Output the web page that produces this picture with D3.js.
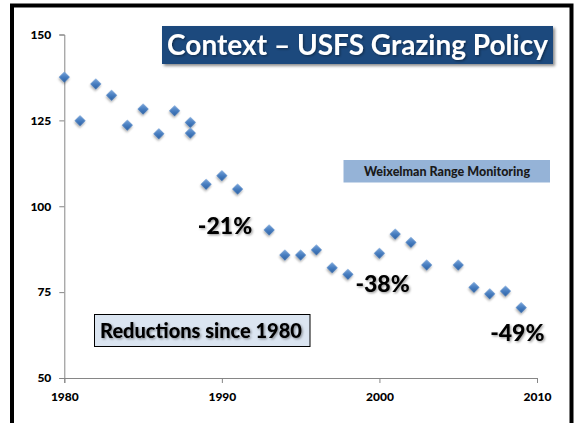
<!DOCTYPE html>
<html>
<head>
<meta charset="utf-8">
<script src="https://cdn.jsdelivr.net/npm/d3@7"></script>
<style>
  html, body { margin: 0; padding: 0; background: #fff; }
  svg { display: block; font-family: Lato, "Open Sans", sans-serif; }
</style>
</head>
<body>
<div id="chart"></div>
<script>
const years = [1980, 1981, 1982, 1983, 1984, 1985, 1986, 1987, 1988, 1988,
  1989, 1990, 1991, 1993, 1994, 1995, 1996, 1997, 1998,
  2000, 2001, 2002, 2003, 2005, 2006, 2007, 2008, 2009]
const values = [137.6, 124.9, 135.6, 132.3, 123.6, 128.3, 121.1, 127.8, 124.4, 121.3,
  106.4, 108.9, 105.0, 93.1, 85.8, 85.8, 87.3, 82.1, 80.2,
  86.3, 91.9, 89.5, 82.9, 82.9, 76.4, 74.5, 75.3, 70.5]
const xTicks = [1980, 1990, 2000, 2010]
const yTicks = [50, 75, 100, 125, 150]
const notes = ["-21%", "-38%", "-49%"]
const noteYears = [1990.2, 2000.2, 2008.75]
const noteValues = [91.8, 75.0, 60.7]

drawChart("#chart")

function drawChart(id){
  const canvas = {width: 578, height: 423}
  const svg = d3.select(id).append("svg")
    .attr("width", canvas.width).attr("height", canvas.height)

  addDefs(svg)

  // frame
  svg.append("path")
    .attr("d", "M12,430 L12,5.5 L571.5,5.5 L571.5,430")
    .attr("fill", "none").attr("stroke", "#000").attr("stroke-width", 4)

  const x = d3.scaleLinear().domain([1980, 2010]).range([64.3, 537])
  const y = d3.scaleLinear().domain([50, 150]).range([378, 34.5])

  const xAxis = svg.append("g").attr("transform", "translate(0,378)")
    .call(d3.axisBottom(x).tickValues(xTicks).tickFormat(d3.format("d")).tickSize(5).tickPadding(9))
  const yAxis = svg.append("g").attr("transform", "translate(64.3,0)")
    .call(d3.axisLeft(y).tickValues(yTicks).tickSize(5).tickPadding(8))
  for (const g of [xAxis, yAxis]) {
    g.select(".domain").attr("stroke", "#868686")
    g.selectAll(".tick line").attr("stroke", "#868686")
    g.selectAll(".tick text").attr("fill", "#000").attr("font-size", "12px")
      .attr("font-weight", "900").attr("font-family", "Lato, sans-serif")
  }

  // boxes
  svg.append("rect").attr("x", 162).attr("y", 26).attr("width", 391).attr("height", 38)
    .attr("fill", "#1f497d").attr("filter", "url(#boxshadow)")
  svg.append("text").attr("x", 357.5).attr("y", 55).attr("text-anchor", "middle")
    .attr("fill", "#fff").attr("font-size", "28px").attr("font-weight", "bold")
    .attr("filter", "url(#txtshadow)")
    .text("Context – USFS Grazing Policy")

  svg.append("rect").attr("x", 343.5).attr("y", 160).attr("width", 206.5).attr("height", 22.5)
    .attr("fill", "#95b3d7")
  svg.append("text").attr("x", 447).attr("y", 175.5).attr("text-anchor", "middle")
    .attr("fill", "#1a1a1a").attr("font-size", "12.5px").attr("font-weight", "900")
    .text("Weixelman Range Monitoring")

  svg.append("rect").attr("x", 94.5).attr("y", 314.5).attr("width", 215.5).attr("height", 32)
    .attr("fill", "#dbe5f1").attr("stroke", "#000").attr("stroke-width", 1)
  svg.append("text").attr("x", 201).attr("y", 338).attr("text-anchor", "middle")
    .attr("fill", "#000").attr("font-size", "20px").attr("font-weight", "900")
    .attr("filter", "url(#txtshadow)")
    .text("Reductions since 1980")

  // points
  const pts = years.map((yr, i) => ({yr: yr, v: values[i]}))
  svg.selectAll(".pt").data(pts).enter().append("path").attr("class", "pt")
    .attr("d", d3.symbol(d3.symbolSquare, 60)())
    .attr("transform", d => `translate(${x(d.yr)},${y(d.v)}) rotate(45)`)
    .attr("fill", "url(#dia)").attr("filter", "url(#ptshadow)")

  // reduction labels
  const lab = notes.map((t, i) => ({t: t, yr: noteYears[i], v: noteValues[i]}))
  svg.selectAll(".note").data(lab).enter().append("text").attr("class", "note")
    .attr("x", d => x(d.yr)).attr("y", d => y(d.v)).attr("text-anchor", "middle")
    .attr("font-size", "23px").attr("font-weight", "900").attr("fill", "#000")
    .attr("filter", "url(#txtshadow)")
    .text(d => d.t)
}

function addDefs(svg){
  const defs = svg.append("defs")
  const g = defs.append("linearGradient").attr("id", "dia")
    .attr("x1", 0).attr("y1", 0).attr("x2", 1).attr("y2", 1)
  g.append("stop").attr("offset", "0%").attr("stop-color", "#78a4da")
  g.append("stop").attr("offset", "55%").attr("stop-color", "#437abd")
  g.append("stop").attr("offset", "100%").attr("stop-color", "#2a5fa2")

  const ps = defs.append("filter").attr("id", "ptshadow")
    .attr("x", "-50%").attr("y", "-50%").attr("width", "200%").attr("height", "200%")
  ps.append("feDropShadow").attr("dx", 1).attr("dy", 1.5).attr("stdDeviation", 0.9)
    .attr("flood-color", "#000").attr("flood-opacity", 0.35)

  const bs = defs.append("filter").attr("id", "boxshadow")
    .attr("x", "-5%").attr("y", "-20%").attr("width", "110%").attr("height", "150%")
  bs.append("feDropShadow").attr("dx", 2).attr("dy", 2).attr("stdDeviation", 1.5)
    .attr("flood-color", "#000").attr("flood-opacity", 0.45)

  const ts = defs.append("filter").attr("id", "txtshadow")
    .attr("x", "-10%").attr("y", "-20%").attr("width", "120%").attr("height", "150%")
  ts.append("feDropShadow").attr("dx", 1.2).attr("dy", 1.2).attr("stdDeviation", 0.8)
    .attr("flood-color", "#000").attr("flood-opacity", 0.4)
}
</script>
</body>
</html>
